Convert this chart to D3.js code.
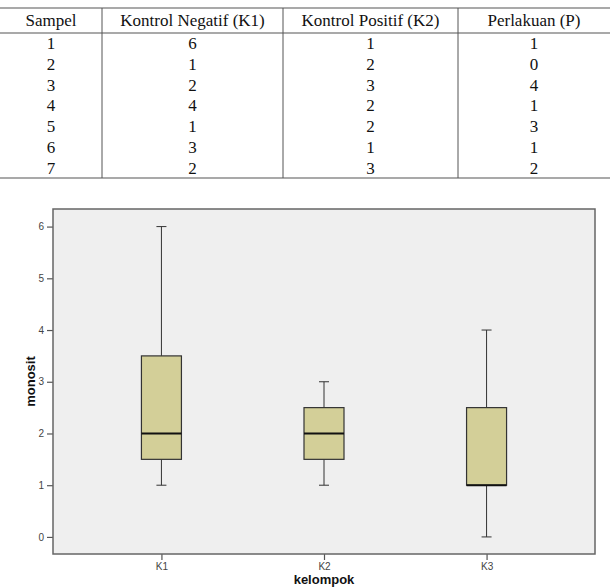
<!DOCTYPE html>
<html>
<head>
<meta charset="utf-8">
<script src="https://cdn.jsdelivr.net/npm/d3@7"></script>
<style>
  html, body { margin: 0; padding: 0; background: #fff; }
  svg { display: block; }
</style>
</head>
<body>
<svg id="chart" width="610" height="588"></svg>
<script>
// ---- Data ----
const tableHeaders = ["Sampel", "Kontrol Negatif (K1)", "Kontrol Positif (K2)", "Perlakuan (P)"];
const samples = [1, 2, 3, 4, 5, 6, 7];
const kontrolNegatif = [6, 1, 2, 4, 1, 3, 2];
const kontrolPositif = [1, 2, 3, 2, 2, 1, 3];
const perlakuan = [1, 0, 4, 1, 3, 1, 2];
const groups = ["K1", "K2", "K3"];
const groupValues = [kontrolNegatif, kontrolPositif, perlakuan];
const yTicks = [0, 1, 2, 3, 4, 5, 6];
const yTitle = "monosit";
const xTitle = "kelompok";

// ---- Box statistics (Tukey hinges, as SPSS boxplot) ----
function tukeyStats(vals) {
  const s = vals.slice().sort(d3.ascending);
  const n = s.length;
  const med = d3.median(s);
  const half = Math.ceil(n / 2);
  const lower = s.slice(0, half), upper = s.slice(n - half);
  const q1 = d3.median(lower), q3 = d3.median(upper);
  const iqr = q3 - q1;
  const lo = d3.min(s.filter(v => v >= q1 - 1.5 * iqr));
  const hi = d3.max(s.filter(v => v <= q3 + 1.5 * iqr));
  return { q1, med, q3, lo, hi };
}
const stats = groups.map((g, i) => Object.assign({ group: g }, tukeyStats(groupValues[i])));

const svg = d3.select("#chart");

// ---- Table ----
const tableFont = "'Liberation Serif', 'Times New Roman', serif";
const colEdges = [0, 102, 283, 458, 610];
const tTop = 8, tHeadBottom = 33, tBottom = 178;
const rowH = (tBottom - tHeadBottom) / samples.length;
const tbl = svg.append("g");
const lineColor = "#555";
[tTop, tHeadBottom, tBottom].forEach(y => {
  tbl.append("line").attr("x1", 0).attr("x2", 610).attr("y1", y).attr("y2", y)
    .attr("stroke", lineColor).attr("stroke-width", 1.2);
});
colEdges.slice(1, 4).forEach(x => {
  tbl.append("line").attr("x1", x).attr("x2", x).attr("y1", tTop).attr("y2", tBottom)
    .attr("stroke", lineColor).attr("stroke-width", 1);
});
const colCenter = i => (colEdges[i] + colEdges[i + 1]) / 2;
tbl.selectAll("text.h").data(tableHeaders).join("text")
  .attr("x", (d, i) => colCenter(i)).attr("y", (tTop + tHeadBottom) / 2)
  .attr("dy", "0.35em").attr("text-anchor", "middle")
  .style("font-family", tableFont).style("font-size", "17px").attr("fill", "#111")
  .text(d => d);
const columns = [samples, kontrolNegatif, kontrolPositif, perlakuan];
columns.forEach((col, ci) => {
  tbl.selectAll("text.c" + ci).data(col).join("text")
    .attr("x", colCenter(ci)).attr("y", (d, ri) => tHeadBottom + rowH * (ri + 0.5))
    .attr("dy", "0.35em").attr("text-anchor", "middle")
    .style("font-family", tableFont).style("font-size", "17px").attr("fill", "#111")
    .text(d => d);
});

// ---- Boxplot ----
const plot = { left: 53, right: 595, top: 209, bottom: 554 };
const sans = "Arial, 'Liberation Sans', sans-serif";
const y = d3.scaleLinear().domain([-0.33, 6.34]).range([plot.bottom, plot.top]);
const x = d3.scalePoint().domain(groups).range([plot.left, plot.right]).padding(0.667);

svg.append("rect")
  .attr("x", plot.left).attr("y", plot.top)
  .attr("width", plot.right - plot.left).attr("height", plot.bottom - plot.top)
  .attr("fill", "#efefef");

// Y axis
const yAxis = svg.append("g").attr("transform", `translate(${plot.left},0)`)
  .call(d3.axisLeft(y).tickValues(yTicks).tickSize(6).tickPadding(3).tickFormat(d3.format("d")));
yAxis.select(".domain").remove();
yAxis.selectAll(".tick line").attr("stroke", "#555").attr("stroke-width", 1.2);
yAxis.selectAll(".tick text").style("font-family", sans).style("font-size", "10px").attr("fill", "#444");

// X axis
const xAxis = svg.append("g").attr("transform", `translate(0,${plot.bottom})`)
  .call(d3.axisBottom(x).tickSize(6).tickPadding(3));
xAxis.select(".domain").remove();
xAxis.selectAll(".tick line").attr("stroke", "#555").attr("stroke-width", 1.2);
xAxis.selectAll(".tick text").style("font-family", sans).style("font-size", "10px").attr("fill", "#444");

// Frame
svg.append("rect")
  .attr("x", plot.left).attr("y", plot.top)
  .attr("width", plot.right - plot.left).attr("height", plot.bottom - plot.top)
  .attr("fill", "none").attr("stroke", "#666").attr("stroke-width", 1.5);

// Boxes
const boxW = 40, capW = 10;
const bg = svg.append("g").selectAll("g").data(stats).join("g");
bg.append("line").attr("class", "whisker")
  .attr("x1", d => x(d.group)).attr("x2", d => x(d.group))
  .attr("y1", d => y(d.hi)).attr("y2", d => y(d.q3))
  .attr("stroke", "#333").attr("stroke-width", 1);
bg.append("line")
  .attr("x1", d => x(d.group)).attr("x2", d => x(d.group))
  .attr("y1", d => y(d.q1)).attr("y2", d => y(d.lo))
  .attr("stroke", "#333").attr("stroke-width", 1);
bg.append("line")
  .attr("x1", d => x(d.group) - capW / 2).attr("x2", d => x(d.group) + capW / 2)
  .attr("y1", d => y(d.hi)).attr("y2", d => y(d.hi))
  .attr("stroke", "#333").attr("stroke-width", 1);
bg.append("line")
  .attr("x1", d => x(d.group) - capW / 2).attr("x2", d => x(d.group) + capW / 2)
  .attr("y1", d => y(d.lo)).attr("y2", d => y(d.lo))
  .attr("stroke", "#333").attr("stroke-width", 1);
bg.append("rect")
  .attr("x", d => x(d.group) - boxW / 2).attr("width", boxW)
  .attr("y", d => y(d.q3)).attr("height", d => y(d.q1) - y(d.q3))
  .attr("fill", "#d3cf98").attr("stroke", "#333").attr("stroke-width", 1.2);
bg.append("line")
  .attr("x1", d => x(d.group) - boxW / 2).attr("x2", d => x(d.group) + boxW / 2)
  .attr("y1", d => y(d.med)).attr("y2", d => y(d.med))
  .attr("stroke", "#111").attr("stroke-width", 2);

// Titles
svg.append("text")
  .attr("x", (plot.left + plot.right) / 2).attr("y", 584)
  .attr("text-anchor", "middle")
  .style("font-family", sans).style("font-size", "13px").style("font-weight", "bold").attr("fill", "#111")
  .text(xTitle);
svg.append("text")
  .attr("transform", `translate(35,${(plot.top + plot.bottom) / 2}) rotate(-90)`)
  .attr("text-anchor", "middle")
  .style("font-family", sans).style("font-size", "13px").style("font-weight", "bold").attr("fill", "#111")
  .text(yTitle);
</script>
</body>
</html>
